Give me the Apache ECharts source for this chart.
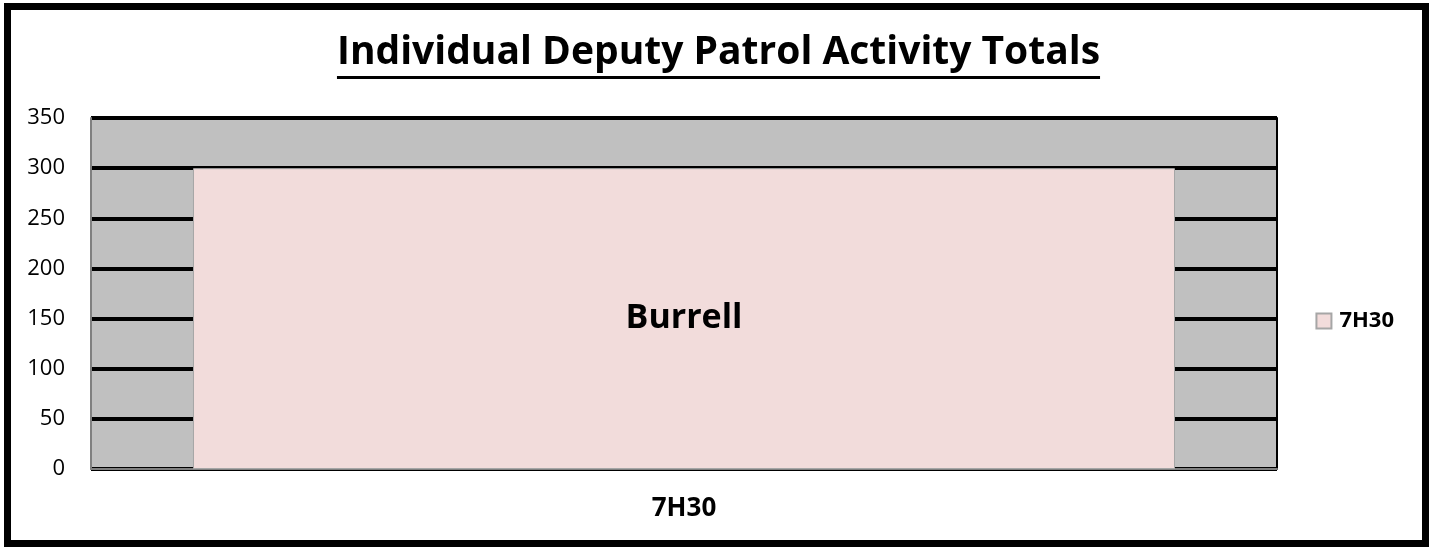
<!DOCTYPE html>
<html>
<head>
<meta charset="utf-8">
<script src="https://cdn.jsdelivr.net/npm/echarts@6/dist/echarts.min.js"></script>
<style>
  html, body { margin: 0; padding: 0; background: #fff; }
  #chart { width: 1437px; height: 548px; }
</style>
</head>
<body>
<div id="chart"></div>
<script>
var categories = ['7H30'];
var seriesName = '7H30';
var values = [300];
var barLabels = ['Burrell'];
var yTicks = [0, 50, 100, 150, 200, 250, 300, 350];

var font = '"Open Sans", sans-serif';
var titleText = 'Individual Deputy Patrol Activity Totals';
var titleSize = 39;

// width of the title, for the underline
var ctx = document.createElement('canvas').getContext('2d');
ctx.font = 'bold ' + titleSize + 'px ' + font;
var titleW = ctx.measureText(titleText).width;
var cx = 1437 / 2;

var chart = echarts.init(document.getElementById('chart'));

chart.setOption({
	animation: false,
	backgroundColor: '#fff',
	title: {
		text: titleText,
		left: 'center',
		top: 28,
		textStyle: { fontFamily: font, fontSize: titleSize, fontWeight: 'bold', color: '#000' }
	},
	legend: {
		data: [seriesName],
		right: 38,
		top: 305,
		orient: 'vertical',
		icon: 'rect',
		itemWidth: 15,
		itemHeight: 15,
		itemGap: 8,
		textStyle: { fontFamily: font, fontSize: 22, fontWeight: 'bold', color: '#000', padding: [0, 0, 0, 3] }
	},
	grid: {
		left: 91,
		right: 160,
		top: 118,
		bottom: 79,
		show: true,
		backgroundColor: '#c0c0c0',
		borderWidth: 0
	},
	xAxis: {
		type: 'category',
		data: categories,
		axisLine: { lineStyle: { color: '#808080', width: 2 } },
		axisTick: { show: false },
		axisLabel: { margin: 27, fontFamily: font, fontSize: 26, fontWeight: 'bold', color: '#000' }
	},
	yAxis: [{
		type: 'value',
		min: yTicks[0],
		max: yTicks[yTicks.length - 1],
		interval: 50,
		axisLine: { show: true, lineStyle: { color: '#808080', width: 2 } },
		axisTick: { show: false },
		axisLabel: { margin: 26, fontFamily: font, fontSize: 22, color: '#000' },
		splitLine: { lineStyle: { color: '#000', width: 4 } }
	}, {
		type: 'value',
		position: 'right',
		min: yTicks[0],
		max: yTicks[yTicks.length - 1],
		interval: 50,
		axisLine: { show: true, lineStyle: { color: '#000', width: 2 } },
		axisTick: { show: false },
		axisLabel: { show: false },
		splitLine: { show: false }
	}],
	series: [{
		name: seriesName,
		type: 'bar',
		data: values,
		barCategoryGap: '17.2%',
		z: 3,
		itemStyle: { color: '#f2dcdb', borderColor: '#a6a6a6', borderWidth: 1 },
		label: {
			show: true,
			position: 'inside',
			formatter: function (p) { return barLabels[p.dataIndex]; },
			fontFamily: font,
			fontSize: 34,
			fontWeight: 'bold',
			color: '#000'
		}
	}],
	graphic: [{
		type: 'rect',
		shape: { x: 7.5, y: 6.5, width: 1418, height: 537 },
		style: { fill: 'none', stroke: '#000', lineWidth: 7 },
		silent: true
	}, {
		type: 'line',
		shape: { x1: cx - titleW / 2, y1: 77.5, x2: cx + titleW / 2, y2: 77.5 },
		style: { stroke: '#000', lineWidth: 3 },
		silent: true
	}]
});
</script>
</body>
</html>
